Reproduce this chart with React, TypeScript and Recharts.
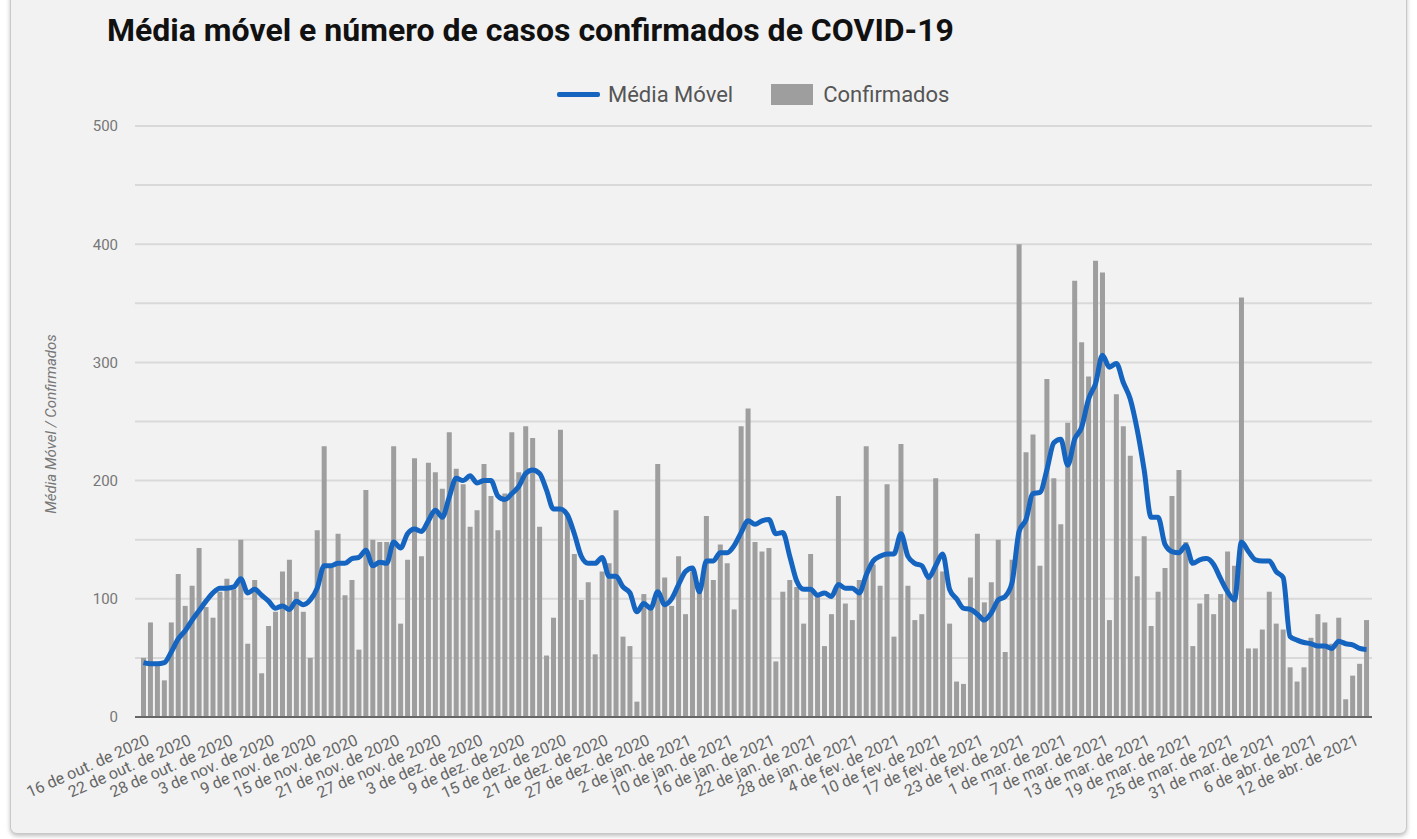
import React from 'react';
import { ComposedChart, Bar, Line, XAxis, YAxis, CartesianGrid } from 'recharts';

// tick labels shown every 6th day on the x axis
const TICK_LABELS = [
  '16 de out. de 2020', '22 de out. de 2020', '28 de out. de 2020', '3 de nov. de 2020',
  '9 de nov. de 2020', '15 de nov. de 2020', '21 de nov. de 2020', '27 de nov. de 2020',
  '3 de dez. de 2020', '9 de dez. de 2020', '15 de dez. de 2020', '21 de dez. de 2020',
  '27 de dez. de 2020', '2 de jan. de 2021', '10 de jan. de 2021', '16 de jan. de 2021',
  '22 de jan. de 2021', '28 de jan. de 2021', '4 de fev. de 2021', '10 de fev. de 2021',
  '17 de fev. de 2021', '23 de fev. de 2021', '1 de mar. de 2021', '7 de mar. de 2021',
  '13 de mar. de 2021', '19 de mar. de 2021', '25 de mar. de 2021', '31 de mar. de 2021',
  '6 de abr. de 2021', '12 de abr. de 2021',
];

const CONFIRMADOS = [
  50, 80, 46, 31, 80, 121, 94, 111, 143, 93, 84, 106, 117, 108, 150, 62, 116, 37,
  77, 89, 123, 133, 106, 89, 50, 158, 229, 126, 155, 103, 116, 57, 192, 150, 148,
  148, 229, 79, 133, 219, 136, 215, 207, 193, 241, 210, 197, 161, 175, 214, 187, 158,
  189, 241, 207, 246, 236, 161, 52, 84, 243, 170, 138, 99, 114, 53, 123, 130, 175,
  68, 60, 13, 104, 95, 214, 118, 94, 136, 87, 123, 112, 170, 116, 146, 130, 91,
  246, 261, 148, 140, 143, 47, 106, 116, 110, 79, 138, 105, 60, 87, 187, 96, 82, 116,
  229, 129, 111, 197, 68, 231, 111, 82, 87, 120, 202, 123, 79, 30, 28, 118, 155,
  97, 114, 150, 55, 133, 400, 224, 239, 128, 286, 202, 163, 249, 369, 317, 288, 386,
  376, 82, 273, 246, 221, 119, 153, 77, 106, 126, 187, 209, 148, 60, 96, 104, 87, 104,
  140, 128, 355, 58, 58, 74, 106, 79, 74, 42, 30, 42, 67, 87, 80, 62, 84,
  15, 35, 45, 82,
];

const MEDIA_MOVEL = [
  46, 45, 45, 46, 55, 66, 73, 82, 90, 98, 105, 109, 109, 110, 117, 105, 108, 103,
  98, 92, 94, 91, 98, 95, 99, 109, 128, 128, 130, 130, 134, 135, 141, 128, 131,
  130, 148, 143, 155, 159, 157, 166, 175, 169, 186, 202, 200, 204, 198, 200, 200, 187,
  184, 189, 195, 206, 209, 206, 192, 176, 176, 171, 155, 136, 130, 130, 135, 119, 119,
  110, 105, 89, 96, 92, 106, 95, 100, 112, 123, 126, 106, 132, 132, 139, 139, 145,
  156, 166, 163, 166, 167, 155, 156, 136, 115, 108, 108, 103, 105, 102, 112, 109, 109, 105,
  120, 132, 136, 138, 138, 155, 136, 130, 128, 118, 128, 138, 108, 100, 92, 91, 87,
  82, 88, 99, 102, 114, 157, 167, 189, 190, 209, 232, 235, 213, 235, 245, 269, 282,
  306, 296, 299, 283, 269, 243, 209, 169, 169, 146, 140, 139, 145, 130, 133, 134, 129, 117,
  106, 99, 148, 140, 133, 132, 132, 123, 118, 68, 65, 63, 62, 60, 60, 58, 64,
  62, 61, 58, 57,
];

const Y_TICKS = [0, 50, 100, 150, 200, 250, 300, 350, 400, 450, 500];

const data = CONFIRMADOS.map((c, i) => ({
  dia: i,
  confirmados: c,
  media: MEDIA_MOVEL[i],
}));

const FONT = 'Roboto, sans-serif';

const XTick = (props: any) => {
  const { x, y, payload } = props;
  const label = TICK_LABELS[payload.value / 6];
  if (!label) return null;
  return (
    <text
      transform={`translate(${x + 7},${y + 27}) rotate(-24)`}
      textAnchor="end"
      fill="#666"
      fontSize={16}
      fontFamily={FONT}
    >
      {label}
    </text>
  );
};

export default function App() {
  return (
    <div style={{ position: 'absolute', left: 0, top: 0, width: 1417, height: 839, background: '#fff', overflow: 'hidden' }}>
      <div
        style={{
          position: 'absolute', left: 10, top: -10, width: 1395, height: 842,
          background: '#f2f2f2', border: '1px solid #c9c9c9', borderRadius: 7,
          boxShadow: '0 2px 4px rgba(0,0,0,0.25)',
        }}
      />
      <div
        style={{
          position: 'absolute', left: 107, top: 10, fontFamily: FONT, fontWeight: 700,
          fontSize: 32, lineHeight: '40px', color: '#111', whiteSpace: 'nowrap',
        }}
      >
        Média móvel e número de casos confirmados de COVID-19
      </div>

      {/* legend */}
      <div style={{ position: 'absolute', left: 557, top: 80, height: 28, display: 'flex', alignItems: 'center', fontFamily: FONT, fontSize: 22, color: '#555' }}>
        <div style={{ width: 43, height: 5, background: '#1565c0', borderRadius: 2 }} />
        <span style={{ marginLeft: 8 }}>Média Móvel</span>
        <div style={{ width: 42, height: 21, background: '#9e9e9e', marginLeft: 38 }} />
        <span style={{ marginLeft: 10 }}>Confirmados</span>
      </div>

      <div
        style={{
          position: 'absolute', left: 51, top: 424, transform: 'translate(-50%, -50%) rotate(-90deg)',
          fontFamily: FONT, fontStyle: 'italic', fontSize: 15, color: '#777', whiteSpace: 'nowrap',
        }}
      >
        Média Móvel / Confirmados
      </div>

      <div style={{ position: 'absolute', left: 0, top: 0 }}>
        <ComposedChart
          width={1417}
          height={839}
          data={data}
          margin={{ top: 126, right: 45, left: 95, bottom: 22 }}
        >
          <CartesianGrid vertical={false} stroke="#d9d9d9" strokeWidth={2} />
          <XAxis
            dataKey="dia"
            interval={5}
            tick={<XTick />}
            tickLine={false}
            tickSize={0}
            tickMargin={0}
            height={100}
            padding={{ left: 5, right: 2 }}
            axisLine={{ stroke: '#666', strokeWidth: 2 }}
          />
          <YAxis
            width={40}
            domain={[0, 500]}
            ticks={Y_TICKS}
            interval={0}
            axisLine={false}
            tickLine={false}
            tickMargin={11}
            tickFormatter={(v: number) => (v % 100 === 0 ? String(v) : '')}
            tick={{ fill: '#777', fontSize: 15, fontFamily: FONT }}
          />
          <Bar dataKey="confirmados" fill="#9e9e9e" barSize={5} isAnimationActive={false} />
          <Line
            dataKey="media"
            type="monotone"
            stroke="#1565c0"
            strokeWidth={5}
            dot={false}
            activeDot={false}
            isAnimationActive={false}
          />
        </ComposedChart>
      </div>
    </div>
  );
}
